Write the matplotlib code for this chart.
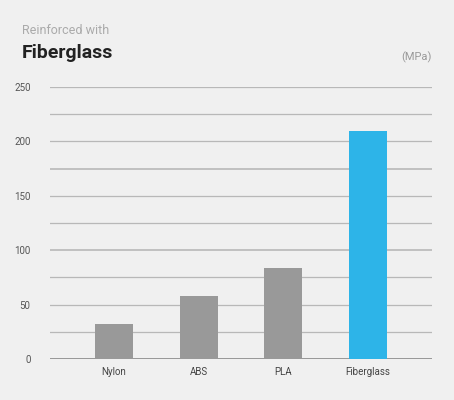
import matplotlib
matplotlib.use("Agg")
import matplotlib.pyplot as plt

categories = ["Nylon", "ABS", "PLA", "Fiberglass"]
values = [32, 58, 84, 210]
colors = ["#999999", "#999999", "#999999", "#2db4e8"]
yticks = [0, 50, 100, 150, 200, 250]

plt.rcParams['font.family'] = ['Roboto', 'DejaVu Sans']
fig = plt.figure(figsize=(4.54, 4.0), dpi=100, facecolor="#f0f0f0")
ax = fig.add_axes([50/454, 1-359/400, 382/454, 272/400])
ax.set_facecolor("#f0f0f0")
x = list(range(len(categories)))
ax.bar(x, values, width=0.45, color=colors, zorder=3)
ax.set_xlim(-0.757, 3.76)
ax.set_ylim(0, 250)
for v in range(0, 251, 25):
    ax.axhline(v, color="#888888" if v == 0 else "#b8b8b8", lw=1.2 if v in (0, 100, 175) else 0.9, zorder=1)
ax.set_yticks(yticks)
ax.set_yticklabels([str(t) for t in yticks], fontsize=7, color="#555555")
ax.set_xticks(x)
ax.set_xticklabels(categories, fontsize=7, color="#444444")
ax.tick_params(length=0, pad=6)
ax.tick_params(axis='y', pad=14)
for s in ax.spines.values():
    s.set_visible(False)
fig.text(22/454, 1-30/400, "Reinforced with", fontsize=9, color="#aaaaaa", va="center")
fig.text(22/454, 1-53/400, "Fiberglass", fontsize=14, color="#222222", va="center", fontweight="semibold")
fig.text(432/454, 1-57/400, "(MPa)", fontsize=8, color="#999999", va="center", ha="right")
fig.savefig("out.png", dpi=100, facecolor=fig.get_facecolor())
